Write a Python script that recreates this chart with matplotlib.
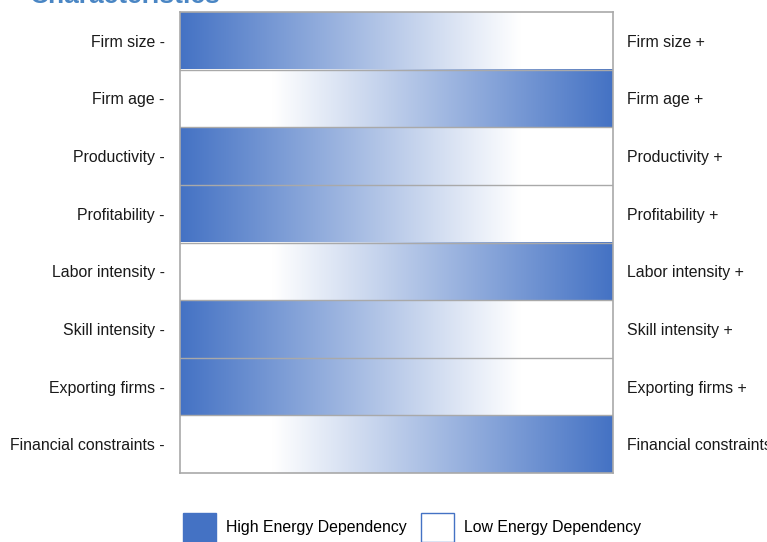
import numpy as np
import matplotlib
matplotlib.use("Agg")
import matplotlib.pyplot as plt
from matplotlib.patches import Patch
from matplotlib.colors import to_rgb

plt.rcParams['font.family'] = ['Liberation Sans', 'DejaVu Sans']

# Firm characteristics, top to bottom
characteristics = ["Firm size", "Firm age", "Productivity", "Profitability",
                   "Labor intensity", "Skill intensity", "Exporting firms",
                   "Financial constraints"]
# Side where high-energy-dependency firms sit: -1 = "−" end, +1 = "+" end
high_side = [-1, 1, -1, -1, 1, -1, -1, 1]
legend_labels = ["High Energy Dependency", "Low Energy Dependency"]
title_text = "Characteristics"

BLUE = "#4472C4"
GRID = "#A9A9A9"
FADE_END = 0.785   # fraction of the row over which the blue fades to white
FS = 11.4

fig = plt.figure(figsize=(7.67, 5.42), dpi=100)
W, H = 767, 542
ax = fig.add_axes([180 / W, 1 - 473 / H, (613 - 180) / W, (473 - 12) / H])

n = len(characteristics)
ax.set_xlim(0, 1)
ax.set_ylim(n, 0)

# build one horizontal gradient strip per row
xs = np.linspace(0, 1, 600)
blue = np.array(to_rgb(BLUE))
white = np.ones(3)
for i, side in enumerate(high_side):
    t = xs if side < 0 else 1 - xs
    w = np.clip(t / FADE_END, 0, 1)[:, None]
    strip = (1 - w) * blue + w * white
    ax.imshow(strip[None, :, :], extent=(0, 1, i + 1, i), aspect="auto",
              interpolation="bilinear", zorder=1)

for i in range(1, n):
    ax.axhline(i, color=GRID, lw=1.0, zorder=2)

for s in ax.spines.values():
    s.set_color(GRID)
    s.set_linewidth(1.2)
    s.set_zorder(3)

ax.set_xticks([])
centers = np.arange(n) + 0.5
ax.set_yticks(centers, labels=[f"{c} -" for c in characteristics])
ax.tick_params(axis="y", length=0, pad=11, labelsize=FS, labelcolor="#1a1a1a")

sec = ax.secondary_yaxis("right")
sec.set_yticks(centers, labels=[f"{c} +" for c in characteristics])
sec.tick_params(axis="y", length=0, pad=10, labelsize=FS, labelcolor="#1a1a1a")
sec.spines["right"].set_visible(False)

fig.text(30 / W, 1 - 3 / H, title_text, fontsize=19, fontweight="bold",
         color="#4A86C4", ha="left", va="baseline")

handles = [Patch(facecolor=BLUE, edgecolor=BLUE, lw=1),
           Patch(facecolor="white", edgecolor=BLUE, lw=1)]
fig.legend(handles, legend_labels, loc="upper center", ncol=2,
           bbox_to_anchor=(412 / W, 1 - 513 / H), frameon=False,
           fontsize=FS, handlelength=2.1, handleheight=2.45,
           handletextpad=0.63, columnspacing=0.9, borderpad=0,
           borderaxespad=0)

fig.savefig("out.png", dpi=100)
